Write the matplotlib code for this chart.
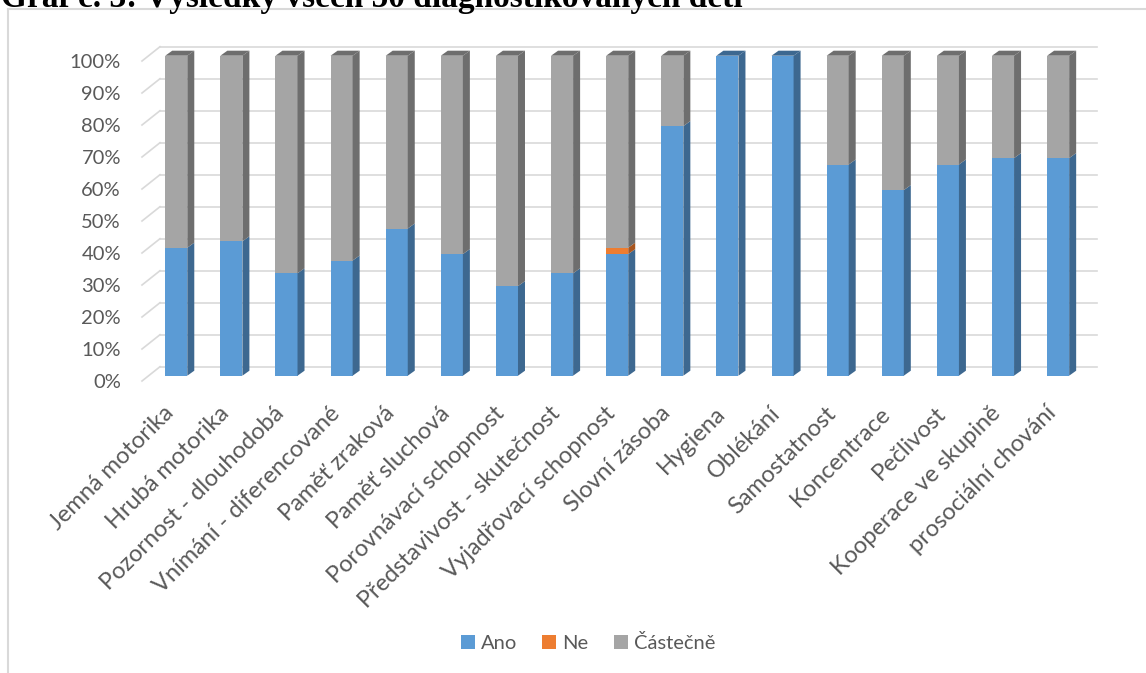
import matplotlib.pyplot as plt
from matplotlib.patches import Polygon, Patch
from matplotlib.lines import Line2D

categories = ['Jemná motorika', 'Hrubá motorika', 'Pozornost - dlouhodobá',
              'Vnímání - diferencované', 'Paměť zraková', 'Paměť sluchová',
              'Porovnávací schopnost', 'Představivost - skutečnost',
              'Vyjadřovací schopnost', 'Slovní zásoba', 'Hygiena', 'Oblékání',
              'Samostatnost', 'Koncentrace', 'Pečlivost', 'Kooperace ve skupině',
              'prosociální chování']
ano = [40, 42, 32, 36, 46, 38, 28, 32, 38, 78, 100, 100, 66, 58, 66, 68, 68]
ne = [0, 0, 0, 0, 0, 0, 0, 0, 2, 0, 0, 0, 0, 0, 0, 0, 0]
castecne = [60, 58, 68, 64, 54, 62, 72, 68, 60, 22, 0, 0, 34, 42, 34, 32, 32]
series = ['Ano', 'Ne', 'Částečně']
yticks = list(range(0, 101, 10))

front = ['#5B9BD5', '#ED7D31', '#A5A5A5']
shade = ['#3D6890', '#A9561F', '#6E6E6E']
grid_c = '#D9D9D9'
text_c = '#595959'
font = ['Lato', 'DejaVu Sans']

W, H = 1146, 673
fig = plt.figure(figsize=(W / 100, H / 100), dpi=100)

# axes cover the front plane of the bars: 17 slots, 0..100 %
left_px, right_px, top_px, bot_px = 148.7, 1085.7, 55.7, 375.7
ax = fig.add_axes([left_px / W, 1 - bot_px / H,
                   (right_px - left_px) / W, (bot_px - top_px) / H])
n = len(categories)
ax.set_xlim(-0.5, n - 0.5)
ax.set_ylim(0, 100)
ax.axis('off')

sx = (right_px - left_px) / n      # pixels per category
sy = (bot_px - top_px) / 100       # pixels per percent

# depth offsets (pixels -> data units)
wall_dx, wall_dy = 11.3 / sx, 9.0 / sy
floor_dx, floor_dy = -6.7 / sx, -5.3 / sy
bar_dx, bar_dy = 7.0 / sx, 5.0 / sy
half = 0.2

# back wall gridlines and the slanted floor edges on the left
for v in yticks:
    ax.plot([-0.5 + wall_dx, n - 0.5 + wall_dx], [v + wall_dy, v + wall_dy],
            color=grid_c, lw=1.2, clip_on=False, zorder=1)
    ax.plot([-0.5 + floor_dx, -0.5 + wall_dx], [v + floor_dy, v + wall_dy],
            color=grid_c, lw=1.2, clip_on=False, zorder=1)
    ax.text(-0.5 - 27.7 / sx, v + floor_dy - 0.5, f'{v}%', ha='right',
            va='center', fontsize=14.5, color=text_c, family=font)

# stacked 3D bars
for i in range(n):
    base = 0
    vals = [ano[i], ne[i], castecne[i]]
    top_k = max(k for k in range(3) if vals[k] > 0)
    for k, v in enumerate(vals):
        if v <= 0:
            continue
        b, t = base, base + v
        x0, x1 = i - half, i + half
        ax.add_patch(Polygon([(x0, b), (x1, b), (x1, t), (x0, t)],
                             closed=True, fc=front[k], ec='none',
                             clip_on=False, zorder=3))
        ax.add_patch(Polygon([(x1, b), (x1 + bar_dx, b + bar_dy),
                              (x1 + bar_dx, t + bar_dy), (x1, t)],
                             closed=True, fc=shade[k], ec='none',
                             clip_on=False, zorder=3))
        if k == top_k:
            ax.add_patch(Polygon([(x0, t), (x0 + bar_dx, t + bar_dy),
                                  (x1 + bar_dx, t + bar_dy), (x1, t)],
                                 closed=True, fc=shade[k], ec='none',
                                 clip_on=False, zorder=3))
        base = t

# category labels
for i, c in enumerate(categories):
    ax.text(i - 0.1, -10.7, c, rotation=45, rotation_mode='anchor',
            ha='right', va='center', fontsize=17, color=text_c, family=font)

handles = [Patch(fc=front[k], ec='none', label=series[k]) for k in range(3)]
fig.legend(handles=handles, loc='center', bbox_to_anchor=(588 / W, 1 - 643 / H),
           ncol=3, frameon=False, handlelength=0.7, handleheight=0.7,
           handletextpad=0.3, columnspacing=1.25,
           prop={'family': font, 'size': 14.5}, labelcolor=text_c)

# chart area border
fig.add_artist(Line2D([8 / W, 8 / W], [0, 1 - 9 / H], transform=fig.transFigure,
                      color=grid_c, lw=1.5))
fig.add_artist(Line2D([8 / W, 1], [1 - 9 / H, 1 - 9 / H], transform=fig.transFigure,
                      color=grid_c, lw=1.5))

fig.text(1 / W, 1 - 7 / H, 'Graf č. 3: Výsledky všech 50 diagnostikovaných dětí',
         va='baseline', ha='left', fontsize=24, fontweight='bold',
         family=['Liberation Serif', 'DejaVu Serif'], color='black')

fig.savefig('out.png', dpi=100)
